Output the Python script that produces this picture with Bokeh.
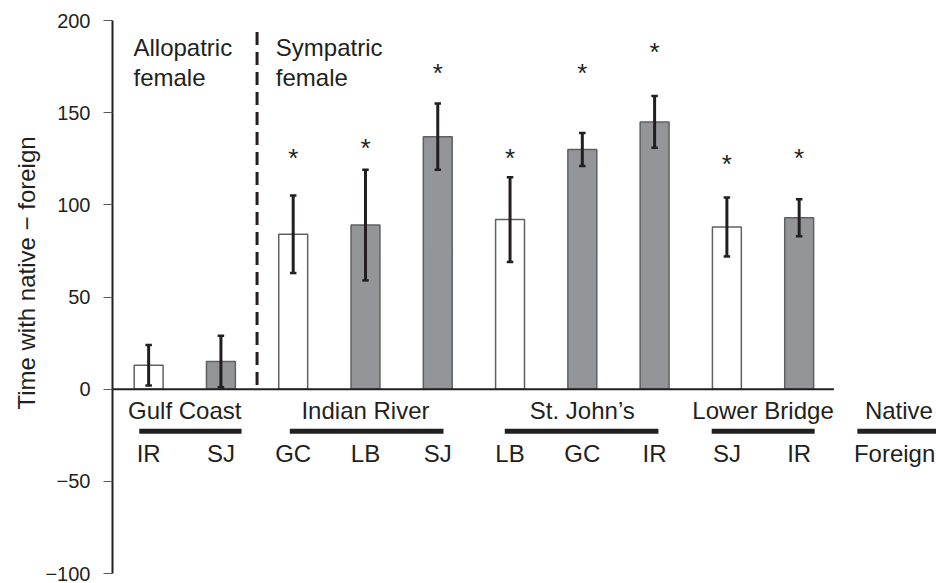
from bokeh.plotting import figure
from bokeh.models import Range1d, FixedTicker, ColumnDataSource
from bokeh.core.properties import value
from bokeh.embed import file_html
from bokeh.resources import INLINE

# ---------------- data ----------------
female_groups = ["Gulf Coast", "Indian River", "St. John\u2019s", "Lower Bridge"]
group_sizes = [2, 3, 3, 2]
foreign_pops = ["IR", "SJ", "GC", "LB", "SJ", "LB", "GC", "IR", "SJ", "IR"]
means = [13, 15, 84, 89, 137, 92, 130, 145, 88, 93]
errors = [11, 14, 21, 30, 18, 23, 9, 14, 16, 10]
shade = ["white", "gray", "white", "gray", "gray", "white", "gray", "gray", "white", "gray"]
significant = [False, False, True, True, True, True, True, True, True, True]
star_y = [0, 0, 128, 133.5, 174.5, 128, 174, 185.5, 125, 128]
y_ticks = [-100, -50, 0, 50, 100, 150, 200]

# ---------------- styling ----------------
FONT = "Liberation Sans"
TXT = "#231f20"
FILL = {"white": "#ffffff", "gray": "#939598"}
EDGE = "#5f6062"
SHIFT = -9  # px, baseline correction for SVG text

n = len(means)
xs = list(range(n))

p = figure(width=936, height=583, output_backend="svg", toolbar_location=None,
           x_range=Range1d(-0.5, 10.9), y_range=Range1d(-100, 200),
           min_border_left=112, min_border_right=0, min_border_top=20,
           min_border_bottom=10)
p.outline_line_color = None
p.xgrid.visible = False
p.ygrid.visible = False
p.xaxis.visible = False

yax = p.yaxis[0]
yax.ticker = FixedTicker(ticks=y_ticks)
yax.major_label_overrides = {t: (str(t).replace("-", "\u2212")) for t in y_ticks}
yax.major_label_text_font = FONT
yax.major_label_text_font_size = "20px"
yax.major_label_text_color = TXT
yax.major_label_standoff = 13
yax.major_tick_out = 9
yax.major_tick_in = 0
yax.major_tick_line_color = "#58595b"
yax.major_tick_line_width = 1
yax.minor_tick_line_color = None
yax.axis_line_color = TXT
yax.axis_line_width = 2
# leading em-spaces shift the visible title upward a little, as in the original
yax.axis_label = "\u2003\u2003Time with native \u2212 foreign"
yax.axis_label_text_font = FONT
yax.axis_label_text_font_size = "24px"
yax.axis_label_text_font_style = "normal"
yax.axis_label_text_color = TXT
yax.axis_label_standoff = 2

# bars
src = ColumnDataSource(dict(
    x=xs, top=means,
    fill=[FILL[s] for s in shade],
    lo=[m - e for m, e in zip(means, errors)],
    hi=[m + e for m, e in zip(means, errors)],
))
p.vbar(x="x", top="top", bottom=0, width=0.4, source=src,
       fill_color="fill", line_color=EDGE, line_width=1.5)

# zero line
p.segment(x0=[-0.5], y0=[0], x1=[9.48], y1=[0], line_color=TXT, line_width=2)

# error bars
p.segment(x0="x", y0="lo", x1="x", y1="hi", source=src, line_color=TXT, line_width=3)
cap = 0.045
p.segment(x0=[x - cap for x in xs], y0=src.data["lo"], x1=[x + cap for x in xs],
          y1=src.data["lo"], line_color=TXT, line_width=2.5)
p.segment(x0=[x - cap for x in xs], y0=src.data["hi"], x1=[x + cap for x in xs],
          y1=src.data["hi"], line_color=TXT, line_width=2.5)

# significance stars
sx = [x for x, s in zip(xs, significant) if s]
sy = [y for y, s in zip(star_y, significant) if s]
p.text(x=sx, y=sy, text=["*"] * len(sx), text_font=value(FONT),
       text_font_size="26px", text_color=TXT, text_align="center",
       text_baseline="alphabetic", y_offset=5)

# dashed divider
p.segment(x0=[1.5], y0=[193.7], x1=[1.5], y1=[0], line_color=TXT,
          line_width=3, line_dash="13 7")

# header texts
p.text(x=[-0.21, -0.21, 1.76, 1.76], y=[180.5, 164.2, 180.5, 164.2],
       text=["Allopatric", "female", "Sympatric", "female"],
       text_font=value(FONT), text_font_size="24px", text_color=TXT,
       text_align="left", text_baseline="alphabetic", y_offset=SHIFT)

# group labels, underlines, foreign labels
starts = []
acc = 0
for s in group_sizes:
    starts.append(acc)
    acc += s
centers = [st + (sz - 1) / 2 for st, sz in zip(starts, group_sizes)]
under_x0 = [-0.13, 1.953, 4.927, 7.79, 9.805]
under_x1 = [1.285, 4.079, 7.053, 9.214, 10.95]
p.segment(x0=under_x0, y0=[-22.8] * 5, x1=under_x1, y1=[-22.8] * 5,
          line_color=TXT, line_width=5)
p.text(x=centers + [10.38], y=[-16.2] * 5, text=female_groups + ["Native"],
       text_font=value(FONT), text_font_size="24px", text_color=TXT,
       text_align="center", text_baseline="alphabetic", y_offset=SHIFT)
p.text(x=xs + [10.32], y=[-39.6] * (n + 1), text=foreign_pops + ["Foreign"],
       text_font=value(FONT), text_font_size="24px", text_color=TXT,
       text_align="center", text_baseline="alphabetic", y_offset=SHIFT)

open("out.html", "w").write(file_html(p, INLINE))
